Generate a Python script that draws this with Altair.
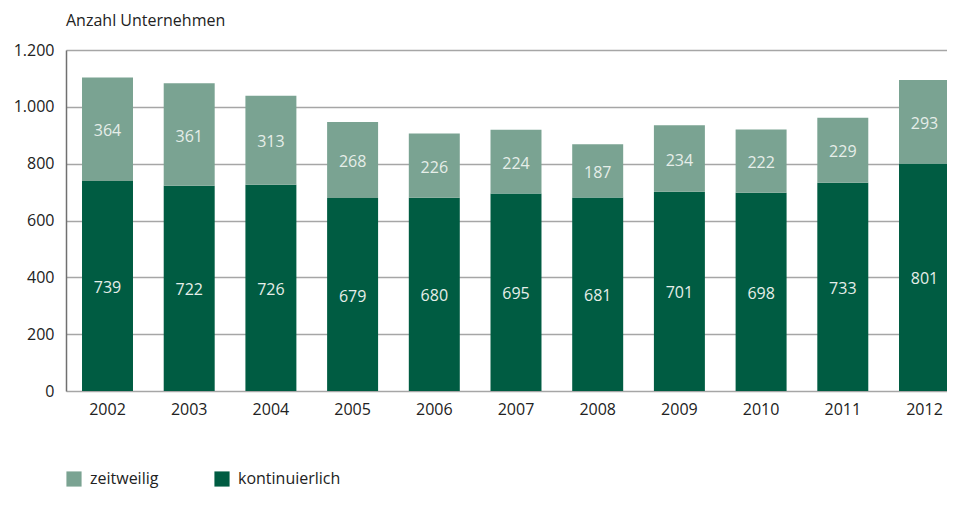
import altair as alt
import pandas as pd

years = ["2002", "2003", "2004", "2005", "2006", "2007", "2008", "2009", "2010", "2011", "2012"]
zeitweilig = [364, 361, 313, 268, 226, 224, 187, 234, 222, 229, 293]
kontinuierlich = [739, 722, 726, 679, 680, 695, 681, 701, 698, 733, 801]
series = ["zeitweilig", "kontinuierlich"]
colors = ["#7aa392", "#005c42"]

rows = []
for i, y in enumerate(years):
    rows.append({"year": y, "series": "kontinuierlich", "value": kontinuierlich[i], "ord": 0})
    rows.append({"year": y, "series": "zeitweilig", "value": zeitweilig[i], "ord": 1})
df = pd.DataFrame(rows)

FONT = "Open Sans"

xenc = alt.X(
    "year:N",
    title=None,
    scale=alt.Scale(range=[0, 900], paddingInner=0.376, paddingOuter=0.196),
    axis=alt.Axis(domain=False, ticks=False, labelPadding=10, labelFontSize=16,
                  labelColor="#222222", labelFont=FONT, labelAngle=0),
)

base = alt.Chart(df).transform_stack(
    stack="value", groupby=["year"], as_=["y0", "y1"], sort=[alt.SortField("ord", order="ascending")]
).transform_calculate(mid="(datum.y0 + datum.y1) / 2")

bars = base.mark_bar().encode(
    x=xenc,
    y=alt.Y(
        "y0:Q",
        title=None,
        scale=alt.Scale(domain=[0, 1200], nice=False),
        axis=alt.Axis(values=[0, 200, 400, 600, 800, 1000, 1200], format=",.0f",
                      ticks=False, labelPadding=12, labelFontSize=16, labelColor="#222222",
                      labelFont=FONT, domainColor="#707070", domainWidth=1.5,
                      gridColor="#a6a6a6", gridWidth=1.5, grid=True),
    ),
    y2="y1:Q",
    color=alt.Color("series:N", scale=alt.Scale(domain=series, range=colors),
                    legend=alt.Legend(title=None, orient="none", legendX=0, legendY=421,
                                      direction="horizontal", symbolType="square",
                                      symbolSize=230, symbolStrokeWidth=0, symbolOpacity=1,
                                      labelFontSize=16, labelFont=FONT, labelColor="#222222",
                                      columnPadding=55, labelOffset=8)),
)

labels = base.mark_text(fontSize=16, font=FONT, color="#e6eee9", dy=2).encode(
    x=xenc,
    y=alt.Y("mid:Q"),
    text=alt.Text("value:Q"),
)

chart = alt.layer(bars, labels).properties(
    width=881,
    height=341,
    autosize=alt.AutoSizeParams(type="none"),
    padding={"left": 58, "top": 42, "right": 0, "bottom": 101},
    title=alt.TitleParams("Anzahl Unternehmen", anchor="start", frame="group", fontSize=16,
                          font=FONT, fontWeight="normal", color="#222222", offset=13),
).configure(
    locale={"number": {"decimal": ",", "thousands": ".", "grouping": [3], "currency": ["", " €"]}},
    view=alt.ViewConfig(stroke=None),
)

chart.save("out.html", embed_options={"renderer": "svg", "actions": False})
